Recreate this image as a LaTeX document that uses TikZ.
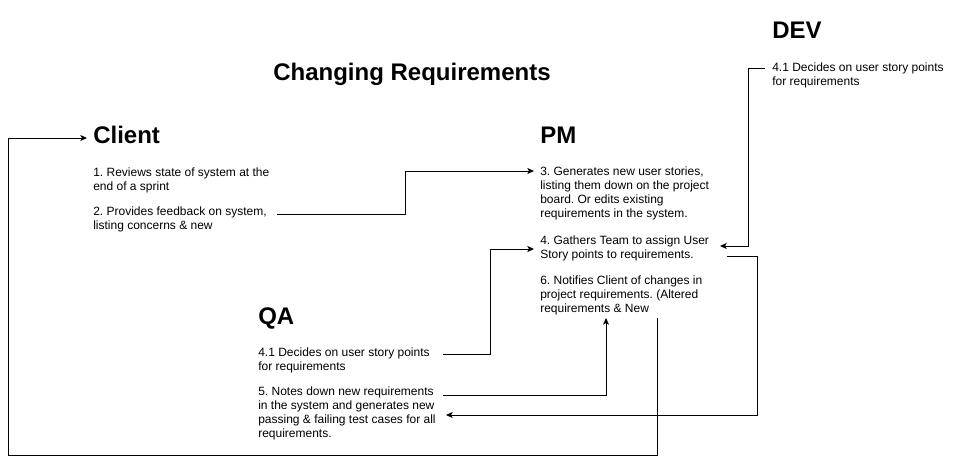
\documentclass[tikz,border=0pt]{standalone}
\usepackage{fontspec}
\setmainfont{Liberation Sans}
\frenchspacing
\usetikzlibrary{arrows.meta,calc,positioning}
\tikzset{
  ttl/.style={font=\fontsize{18pt}{21pt}\selectfont\bfseries,inner sep=0pt,anchor=base},
  head/.style={font=\fontsize{18pt}{21pt}\selectfont\bfseries,inner sep=0pt,anchor=base west},
  txt/.style={font=\fontsize{9pt}{10.5pt}\selectfont,inner sep=0pt,anchor=north west,align=left},
  flow/.style={black,line width=0.75pt,-{Stealth[length=5pt,width=4.5pt,inset=1.2pt]}},
}

\begin{document}
\begin{tikzpicture}[x=0.75pt,y=-0.75pt]
  \useasboundingbox (0,0) rectangle (958,464);
  \node[ttl] (title) at (412,80) {Changing Requirements};
  % ===================== Client =====================
  \node[head] (client) at (93,143) {Client};
  \node[txt] (c1) at (93,168) {1. Reviews state of system at the\\end of a sprint};
  \node[txt] (c2) at (93,207) {2. Provides feedback on system,\\listing concerns \& new};
  % ===================== PM =====================
  \node[head] (pm) at (540,143) {PM};
  \node[txt] (pm3) at (540,167) {3. Generates new user stories,\\listing them down on the project\\board. Or edits existing\\requirements in the system.};
  \node[txt] (pm4) at (540,236) {4. Gathers Team to assign User\\Story points to requirements.};
  \node[txt] (pm6) at (540,276) {6. Notifies Client of changes in\\project requirements. (Altered\\requirements \& New};
  % ===================== DEV =====================
  \node[head] (dev) at (772,38) {DEV};
  \node[txt] (dev41) at (772,63) {4.1 Decides on user story points\\for requirements};
  % ===================== QA =====================
  \node[head] (qa) at (258,324) {QA};
  \node[txt] (qa41) at (258,348) {4.1 Decides on user story points\\for requirements};
  \node[txt] (qa5) at (258,387) {5. Notes down new requirements\\in the system and generates new\\passing \& failing test cases for all\\requirements.};
  % ===================== connectors =====================
  \coordinate (c2out) at ($(c2.north west)+(184,7)$);
  \coordinate (pm3in) at ($(pm3.north west)+(-6,4)$);
  \coordinate (d41out) at ($(dev41.north west)+(-7,5)$);
  \coordinate (pm4inR) at ($(pm4.north west)+(180,10)$);
  \coordinate (pm4out) at ($(pm4.north west)+(187,20)$);
  \coordinate (pm4inL) at ($(pm4.north west)+(-6,13)$);
  \coordinate (qa41out) at ($(qa41.north west)+(185,6)$);
  \coordinate (qa5out) at ($(qa5.north west)+(185,8)$);
  \coordinate (qa5in) at ($(qa5.north west)+(188,28)$);
  \coordinate (pm6up) at ($(pm6.north west)+(66,42)$);
  \coordinate (pm6out) at ($(pm6.north west)+(117,42)$);
  \coordinate (clientin) at ($(client.base west)+(-6,-5)$);
  \coordinate (loop) at (8,455);
  \draw[flow] (c2out) -| ($(c2out)!0.5!(pm3in)$) |- (pm3in);
  \draw[flow] (d41out) -- ++(-17,0) |- (pm4inR);
  \draw[flow] (pm4out) -- ++(30,0) |- (qa5in);
  \draw[flow] (qa41out) -- ++(47,0) |- (pm4inL);
  \draw[flow] (qa5out) -| (pm6up);
  \draw[flow] (pm6out) |- (loop) |- (clientin);
\end{tikzpicture}
\end{document}
